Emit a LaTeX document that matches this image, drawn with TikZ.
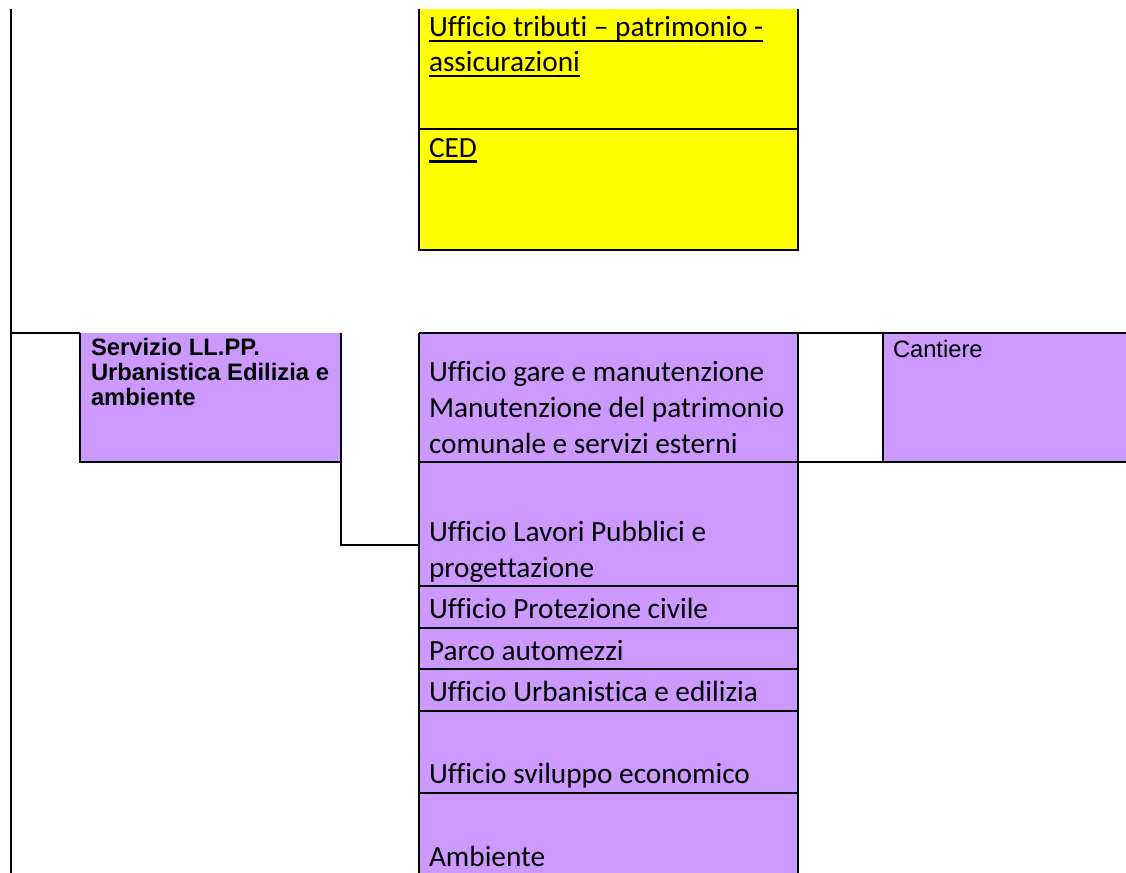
\documentclass[tikz,border=0pt]{standalone}
\usepackage{fontspec}
\newfontfamily\calfont[Ligatures=NoCommon]{Carlito}
\newfontfamily\arialfont{Liberation Sans}
\definecolor{lilla}{HTML}{CC99FF}
\definecolor{giallo}{HTML}{FFFF00}
\newcommand\myul[1]{\setbox0=\hbox{#1}\rlap{\rule[-5.5pt]{\wd0}{2.3pt}}\box0}
\tikzset{
  cell/.style={rectangle, inner sep=0pt, outer sep=0pt, draw=none, anchor=north west},
  ylw/.style={cell, fill=giallo},
  lil/.style={cell, fill=lilla},
  txt/.style={anchor=base west, inner sep=0pt, outer sep=0pt, font=\calfont\fontsize{29.3}{34}\selectfont},
  atxt/.style={anchor=base west, inner sep=0pt, outer sep=0pt, font=\arialfont\fontsize{23.7}{25}\selectfont},
  btxt/.style={atxt, font=\arialfont\bfseries\fontsize{23.8}{25}\selectfont},
  ln/.style={line width=2pt, black}
}
\begin{document}
\begin{tikzpicture}[x=1pt,y=-1pt]
\clip (0,0) rectangle (1126,872);
\fill[white] (0,0) rectangle (1126,872);

% yellow boxes
\node[ylw, minimum width=379pt, minimum height=120pt] (trib) at (419,9) {};
\node[ylw, minimum width=379pt, minimum height=121pt] (ced) at (419,129) {};

% servizio
\node[lil, minimum width=261pt, minimum height=129pt] (serv) at (80,333) {};

% purple column
\node[lil, minimum width=379pt, minimum height=129pt] (gare) at (419,333) {};
\node[lil, minimum width=379pt, minimum height=124pt] (lavori) at (419,462) {};
\node[lil, minimum width=379pt, minimum height=42pt] (prot) at (419,586) {};
\node[lil, minimum width=379pt, minimum height=41pt] (parco) at (419,628) {};
\node[lil, minimum width=379pt, minimum height=42pt] (urb) at (419,669) {};
\node[lil, minimum width=379pt, minimum height=82pt] (svil) at (419,711) {};
\node[lil, minimum width=379pt, minimum height=90pt] (amb) at (419,793) {};

% right cells
\node[cell, minimum width=85pt, minimum height=129pt] (gap) at (798,333) {};
\node[lil, minimum width=243pt, minimum height=129pt] (cant) at (883,333) {};

% borders yellow
\draw[ln] (trib.north west) -- (ced.south west) -- (ced.south east) -- (trib.north east);
\draw[ln] (trib.south west) -- (trib.south east);

% servizio borders
\draw[ln] (serv.north west) -- (serv.south west) -- (serv.south east);

% column borders
\draw[ln] (gare.north west) -- (amb.south west);
\draw[ln] (gare.north east) -- (amb.south east);
\draw[ln] (gare.north west) -- (cant.north east);
\foreach \n in {gare,lavori,prot,parco,urb,svil}{
  \draw[ln] (\n.south west) -- (\n.south east);
}
\draw[ln] (gap.south west) -- (cant.south east);
\draw[ln] (cant.north west) -- (cant.south west);

% connectors
\coordinate (top) at (11,9);
\coordinate (bot) at (11,880);
\draw[ln] (top) -- (bot);
\draw[ln] (serv.north west -| top) -- (serv.north west);
\coordinate (lavin) at (419,545);
\draw[ln] (serv.north east) -- (serv.south east) |- (lavin);

% texts
\node[txt] (t1) at (429,37) {\myul{Ufficio tributi – patrimonio -}};
\node[txt] (t2) at (429,72) {\myul{assicurazioni}};
\node[txt] (t3) at (429,157) {\myul{CED}};

\node[btxt] (s1) at (91,355) {Servizio LL.PP.};
\node[btxt] (s2) at (91,380) {Urbanistica Edilizia e};
\node[btxt] (s3) at (91,405) {ambiente};

\node[atxt] (c1) at (893,357) {Cantiere};

\node[txt] (g1) at (429,381) {Ufficio gare e manutenzione};
\node[txt] (g2) at (429,417) {Manutenzione del patrimonio};
\node[txt] (g3) at (429,453) {comunale e servizi esterni};
\node[txt] (l1) at (429,541) {Ufficio Lavori Pubblici e};
\node[txt] (l2) at (429,577) {progettazione};
\node[txt] (p1) at (429,618) {Ufficio Protezione civile};
\node[txt] (a1) at (429,660) {Parco automezzi};
\node[txt] (u1) at (429,701) {Ufficio Urbanistica e edilizia};
\node[txt] (e1) at (429,783) {Ufficio sviluppo economico};
\node[txt] (m1) at (429,866) {Ambiente};
\end{tikzpicture}
\end{document}
